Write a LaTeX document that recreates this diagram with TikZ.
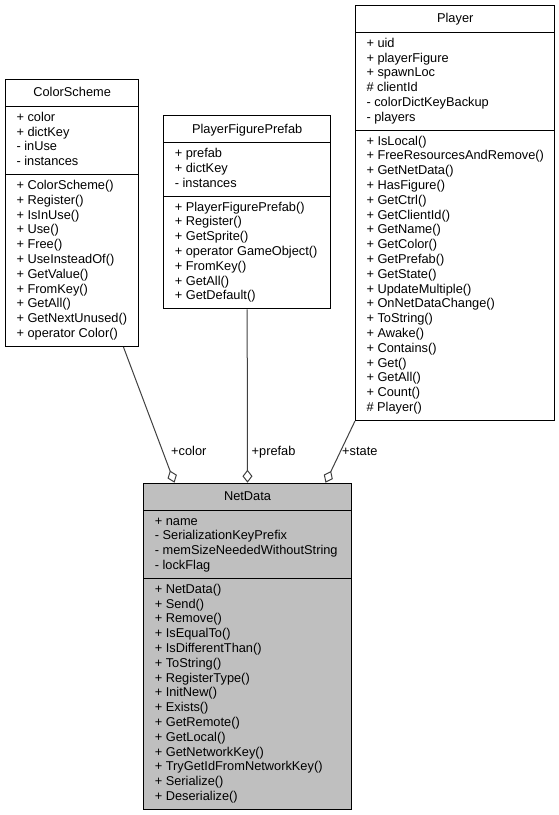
\documentclass[tikz,border=0pt]{standalone}
\usepackage{fontspec}
\setmainfont{Liberation Sans}
\usepackage{tikz}
\usetikzlibrary{arrows.meta}
\usetikzlibrary{shapes.multipart}
\usetikzlibrary{calc}
\usetikzlibrary{positioning}

\definecolor{linkgray}{HTML}{404040}
\definecolor{hlgray}{HTML}{BFBFBF}
\newcommand{\tstrut}{\rule[-5.3pt]{0pt}{18pt}}

\begin{document}
\begin{tikzpicture}[x=1pt, y=1pt,
    font=\fontsize{12.8}{14.8}\selectfont,
    cls/.style={draw, line width=1pt, fill=white, rectangle split, rectangle split parts=3,
      rectangle split part align={center,left,left}, align=left,
      inner xsep=11pt, inner ysep=4pt, anchor=north west},
    agg/.style={draw=linkgray, line width=1pt, -{Diamond[open, length=13pt, width=10pt]}},
    lbl/.style={anchor=base west, inner sep=0pt}]
  \useasboundingbox (0,0) rectangle (559,-815);

  \node[cls, minimum width=133.3pt] (cs) at (5,-79) {\tstrut ColorScheme
    \nodepart{second}\strut + color\\ + dictKey\\ - inUse\\ - instances\strut
    \nodepart{third}\strut + ColorScheme()\\ + Register()\\ + IsInUse()\\ + Use()\\ + Free()\\
      + UseInsteadOf()\\ + GetValue()\\ + FromKey()\\ + GetAll()\\ + GetNextUnused()\\
      + operator Color()\strut};

  \node[cls, minimum width=166.7pt] (pf) at (163.3,-115.3) {\tstrut PlayerFigurePrefab
    \nodepart{second}\strut + prefab\\ + dictKey\\ - instances\strut
    \nodepart{third}\strut + PlayerFigurePrefab()\\ + Register()\\ + GetSprite()\\
      + operator GameObject()\\ + FromKey()\\ + GetAll()\\ + GetDefault()\strut};

  \node[cls, minimum width=198pt] (pl) at (355,-5) {\tstrut Player
    \nodepart{second}\strut + uid\\ + playerFigure\\ + spawnLoc\\ \# clientId\\
      - colorDictKeyBackup\\ - players\strut
    \nodepart{third}\strut + IsLocal()\\ + FreeResourcesAndRemove()\\ + GetNetData()\\
      + HasFigure()\\ + GetCtrl()\\ + GetClientId()\\ + GetName()\\ + GetColor()\\
      + GetPrefab()\\ + GetState()\\ + UpdateMultiple()\\ + OnNetDataChange()\\
      + ToString()\\ + Awake()\\ + Contains()\\ + Get()\\ + GetAll()\\ + Count()\\
      \# Player()\strut};

  \node[cls, fill=hlgray, minimum width=207.4pt] (nd) at (143.3,-482.7) {\tstrut NetData
    \nodepart{second}\strut + name\\ - SerializationKeyPrefix\\
      - memSizeNeededWithoutString\\ - lockFlag\strut
    \nodepart{third}\strut + NetData()\\ + Send()\\ + Remove()\\ + IsEqualTo()\\
      + IsDifferentThan()\\ + ToString()\\ + RegisterType()\\ + InitNew()\\ + Exists()\\
      + GetRemote()\\ + GetLocal()\\ + GetNetworkKey()\\ + TryGetIdFromNetworkKey()\\
      + Serialize()\\ + Deserialize()\strut};

  \draw[agg] ([xshift=51.3pt]cs.south) -- ([xshift=-73pt]nd.north);
  \draw[agg] (pf.south) -- (nd.north);
  \draw[agg] (pl.south west) -- ([xshift=78pt]nd.north);

  \node[lbl] (lc) at (171,-455) {+color};
  \node[lbl] (lp) at (251.5,-455) {+prefab};
  \node[lbl] (ls) at (342,-455) {+state};
\end{tikzpicture}
\end{document}
